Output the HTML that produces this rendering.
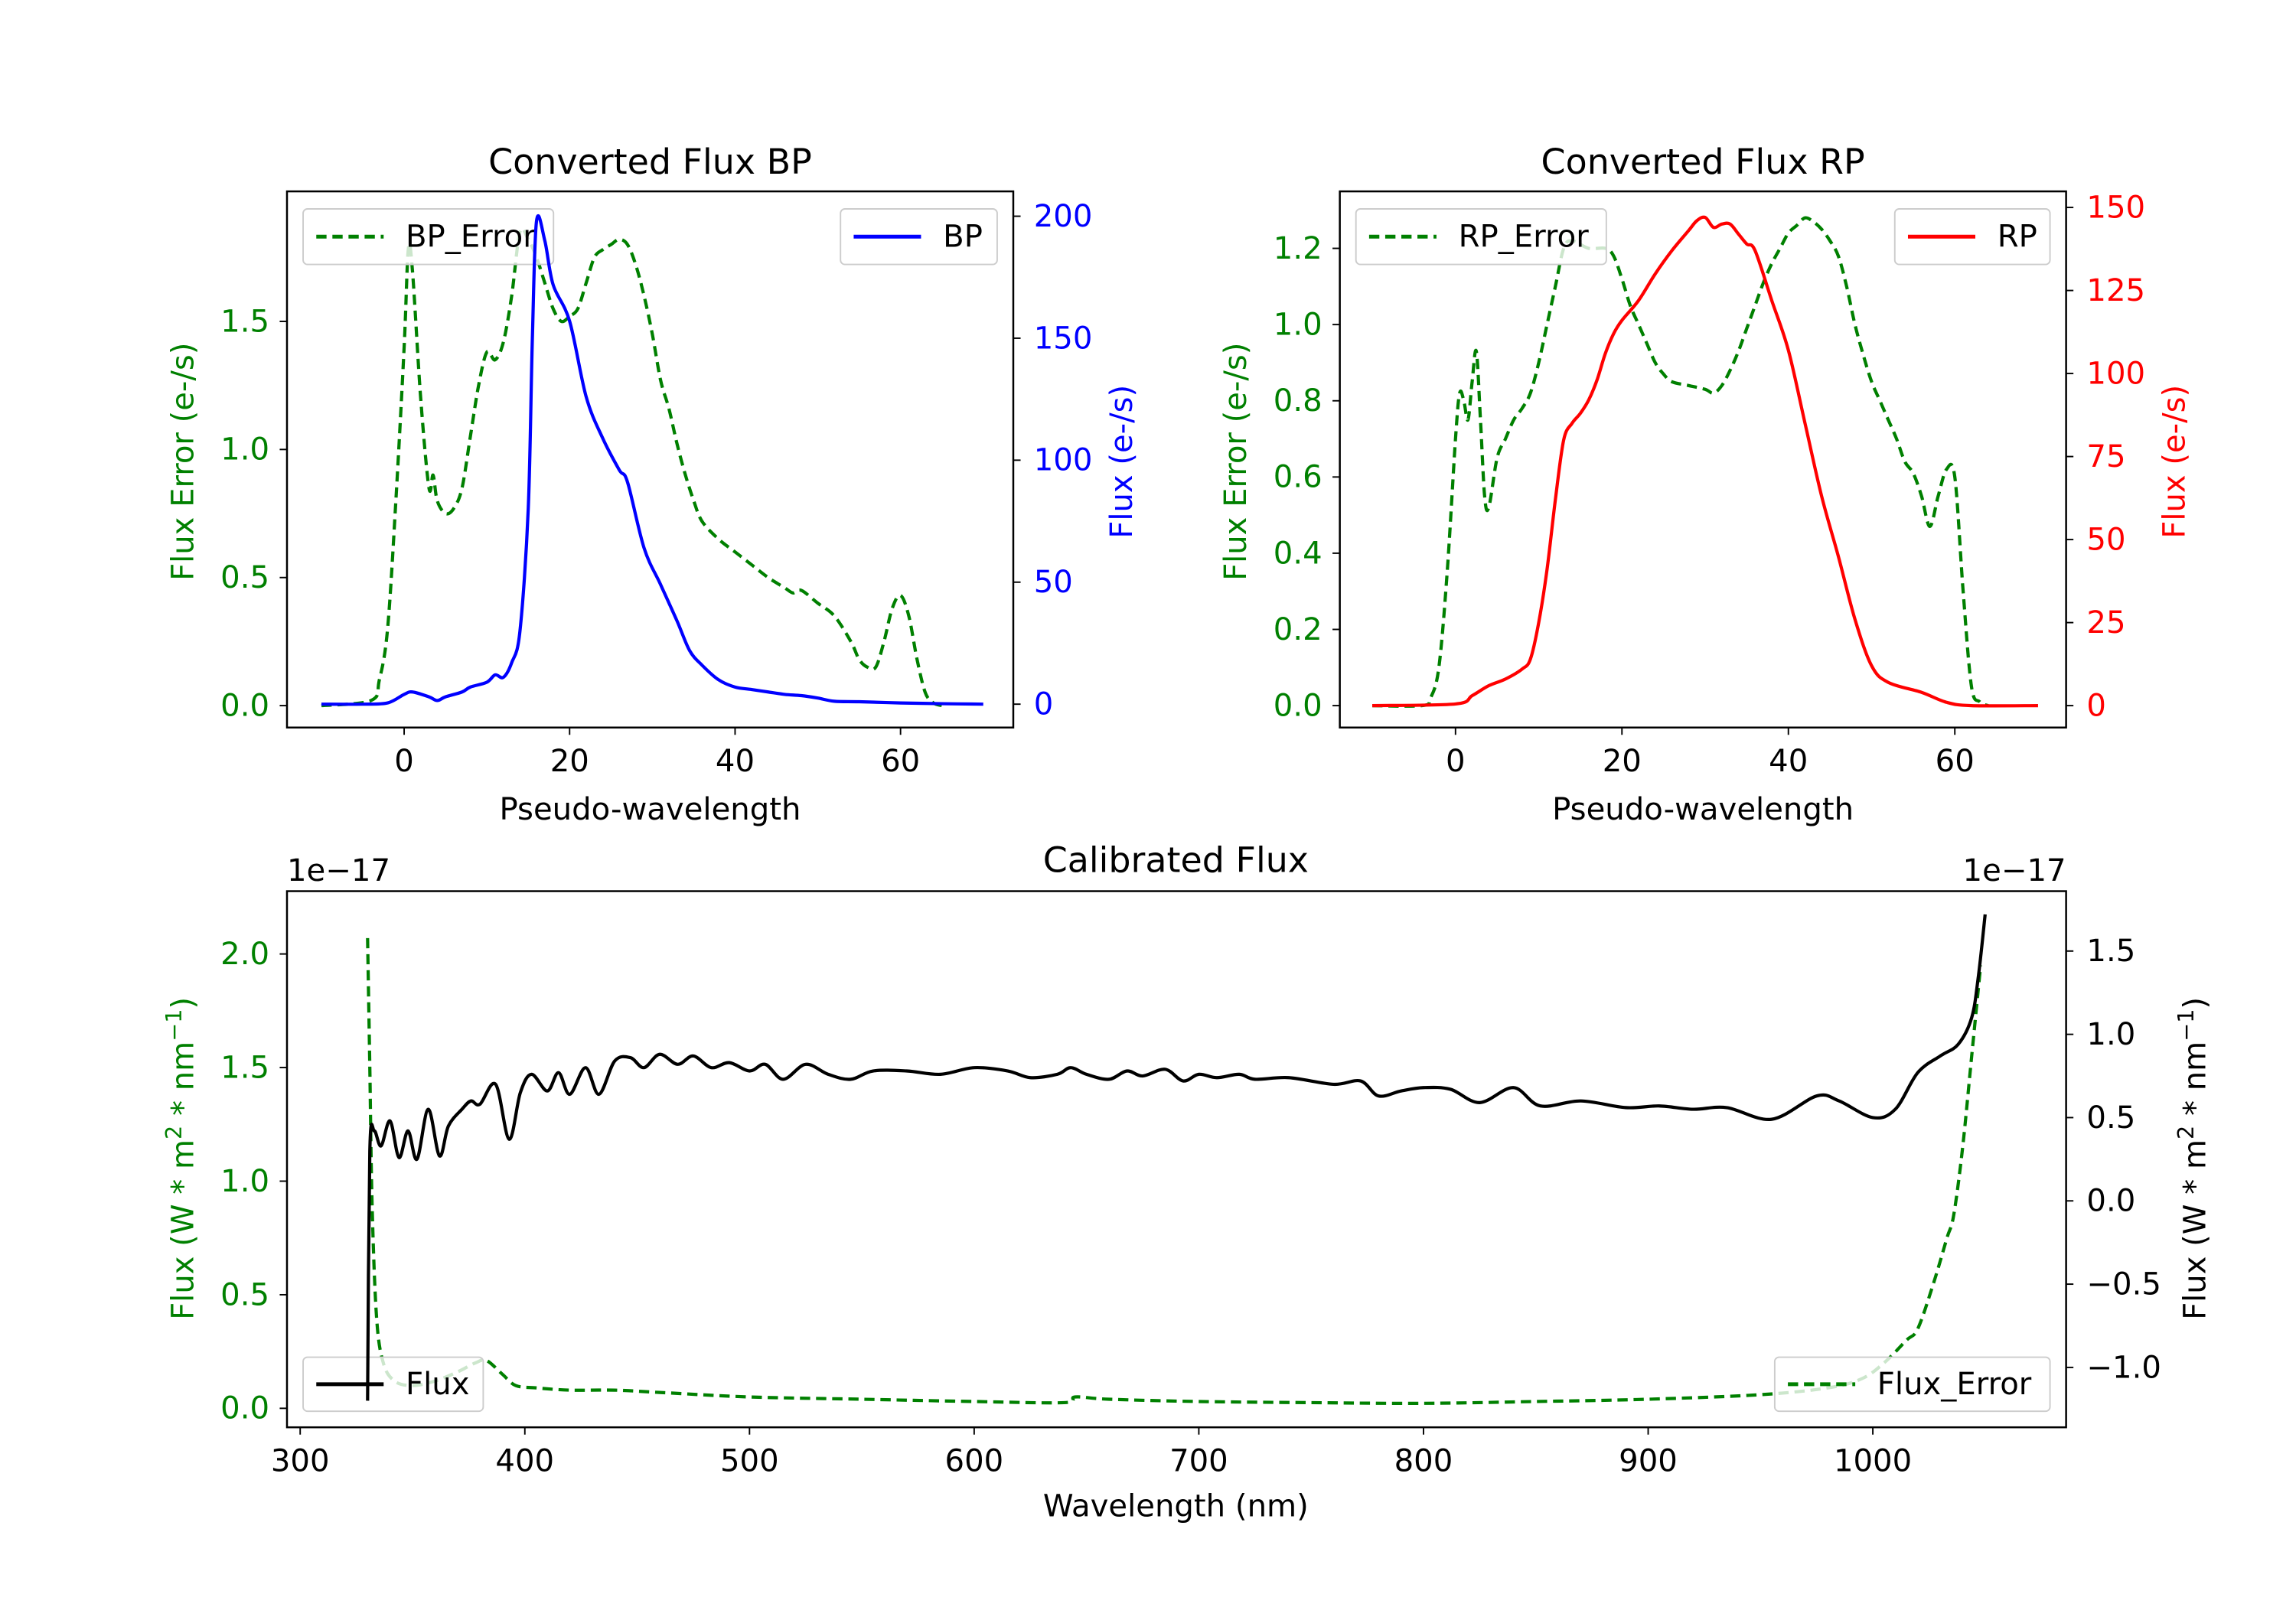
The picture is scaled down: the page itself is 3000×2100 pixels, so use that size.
<!DOCTYPE html>
<html><head><meta charset="utf-8"><style>
html,body{margin:0;padding:0;background:#fff}
svg{display:block}
text{font-family:"DejaVu Sans","Liberation Sans",sans-serif}
</style></head><body>
<svg id="fig" width="3000" height="2100" viewBox="0 0 1568 1100" preserveAspectRatio="none" xmlns="http://www.w3.org/2000/svg"></svg>
<script>
// ---- data ----
const bpX=[-10,-5,-2,0,1,3,4,5,7,8,10,11,12,13,14,15,15.5,16,17,18,20,22,24,26,27,29,31,33,34.5,36,38,40,42,44,46,48,50,52,55,60,65,70];
const bpFlux=[0,0,0.5,4,5,3,1.5,3,5,7,9,12,11,17,30,80,150,198,190,172,157,126,109,96,91,64,49,34,22,16,10,7,6,5,4,3.5,2.5,1.2,1,0.5,0.2,0];
const bpErrX=[-10,-4,-3,-2,-1,0,0.5,1,2,3,3.5,4,5,6,7,8,9,10,11,12,13,14,15,16,17,18,19,20,21,22,23,24,25,26,27,28,29,30,31,32,33,34,35,36,38,40,42,44,46,47,48,50,52,54,55,56,57,58,59,60,61,62,63,64,65];
const bpErr=[0,0.02,0.1,0.3,0.8,1.4,1.78,1.7,1.2,0.85,0.9,0.8,0.75,0.77,0.85,1.05,1.25,1.38,1.35,1.42,1.6,1.85,1.82,1.75,1.65,1.55,1.5,1.52,1.55,1.65,1.75,1.78,1.8,1.82,1.8,1.72,1.6,1.45,1.27,1.16,1.02,0.9,0.8,0.72,0.65,0.6,0.55,0.5,0.46,0.44,0.45,0.4,0.35,0.25,0.18,0.15,0.15,0.25,0.38,0.43,0.35,0.18,0.05,0.01,0];
const rpX=[-10,0,2,4,6,8,9,10,11,12,13,14,15,16,17,18,19,20,22,24,26,28,29,30,31,32,33,34,35,36,38,40,42,44,46,48,50,52,56,59,62,70];
const rpFlux=[0,0.5,3,6,8,11,14,25,41,62,80,85,88,92,98,106,112,116,122,130,137,143,146,147,144,145,145,142,139,137,122,107,85,63,45,26,12,7,4,1,0,0];
const rpErrX=[-10,-4,-3,-2,-1,0,0.5,1,1.5,2,2.5,3,3.5,4,5,6,7,8,9,10,11,12,13,14,16,18,19,20,21,22,23,24,25,26,28,30,31,32,33,34,35,36,37,38,39,40,41,42,43,44,45,46,47,48,49,50,51,52,53,54,55,56,57,58,59,60,61,62,63,64];
const rpErr=[0,0,0.02,0.1,0.35,0.7,0.82,0.8,0.75,0.85,0.93,0.75,0.55,0.52,0.65,0.7,0.75,0.78,0.82,0.9,1.0,1.1,1.2,1.22,1.2,1.2,1.18,1.12,1.05,1.0,0.95,0.9,0.87,0.85,0.84,0.83,0.82,0.84,0.88,0.93,0.99,1.05,1.11,1.16,1.2,1.24,1.26,1.28,1.27,1.25,1.22,1.18,1.1,1.0,0.92,0.85,0.8,0.75,0.7,0.64,0.61,0.55,0.47,0.55,0.62,0.6,0.3,0.05,0.01,0];
const calX=[330,331,333,336,340,344,348,352,357,362,366,372,376,380,387,393,398,403,410,415,420,427,433,440,447,453,460,468,475,483,491,500,507,515,525,535,545,555,570,585,600,615,625,637,643,650,660,668,675,685,693,700,708,718,725,740,760,772,780,790,800,812,825,840,852,870,890,905,920,935,955,975,985,1000,1010,1020,1030,1038,1044,1047,1050];
const calFlux=[-1.2,0.3,0.42,0.33,0.48,0.26,0.42,0.25,0.55,0.27,0.45,0.55,0.6,0.58,0.7,0.37,0.65,0.76,0.66,0.77,0.64,0.8,0.64,0.84,0.86,0.8,0.88,0.82,0.87,0.8,0.83,0.78,0.82,0.73,0.82,0.76,0.73,0.78,0.78,0.76,0.8,0.78,0.74,0.76,0.8,0.76,0.73,0.78,0.75,0.79,0.72,0.76,0.74,0.76,0.73,0.74,0.7,0.72,0.63,0.66,0.68,0.67,0.59,0.68,0.57,0.6,0.56,0.57,0.55,0.56,0.49,0.63,0.6,0.5,0.55,0.77,0.87,0.94,1.1,1.35,1.72];
const calErrX=[330,331,332,334,337,342,350,360,370,378,383,390,396,405,420,440,460,500,550,600,640,645,660,700,750,800,850,900,950,980,995,1005,1015,1020,1027,1033,1036,1040,1044,1048];
const calErr=[2.07,1.5,0.9,0.4,0.2,0.12,0.1,0.12,0.16,0.2,0.21,0.15,0.1,0.09,0.08,0.08,0.07,0.05,0.04,0.03,0.025,0.05,0.04,0.03,0.025,0.022,0.03,0.04,0.06,0.09,0.13,0.2,0.3,0.35,0.55,0.75,0.85,1.15,1.55,1.95];
const bpXTicks=[0,20,40,60], bpErrTicks=[0,0.5,1,1.5], bpFluxTicks=[0,50,100,150,200];
const rpXTicks=[0,20,40,60], rpErrTicks=[0,0.2,0.4,0.6,0.8,1.0,1.2], rpFluxTicks=[0,25,50,75,100,125,150];
const calXTicks=[300,400,500,600,700,800,900,1000], calErrTicks=[0,0.5,1.0,1.5,2.0], calFluxTicks=[-1.0,-0.5,0,0.5,1.0,1.5];

const NS="http://www.w3.org/2000/svg";
const svg=document.getElementById('fig');
const TF=21, LF=21, TTF=24;
function el(tag,attrs,parent){const e=document.createElementNS(NS,tag);for(const k in attrs)e.setAttribute(k,attrs[k]);(parent||svg).appendChild(e);return e;}
function txt(s,attrs,parent){const e=el('text',attrs,parent);e.textContent=s;return e;}
function lin(d0,d1,p0,p1){return v=>p0+(v-d0)/(d1-d0)*(p1-p0);}
function fmt(v,dec){return (v<0?'\u2212':'')+Math.abs(v).toFixed(dec);}
function pathD(xs,ys,sx,sy){
  const P=xs.map((x,i)=>[sx(x),sy(ys[i])]);
  let d='M'+P[0][0].toFixed(2)+','+P[0][1].toFixed(2);
  for(let i=0;i<P.length-1;i++){
    const p0=P[Math.max(0,i-1)],p1=P[i],p2=P[i+1],p3=P[Math.min(P.length-1,i+2)];
    const c1=[p1[0]+(p2[0]-p0[0])/6,p1[1]+(p2[1]-p0[1])/6];
    const c2=[p2[0]-(p3[0]-p1[0])/6,p2[1]-(p3[1]-p1[1])/6];
    d+=' C'+c1.map(v=>v.toFixed(2)).join(',')+' '+c2.map(v=>v.toFixed(2)).join(',')+' '+p2[0].toFixed(2)+','+p2[1].toFixed(2);
  }
  return d;
}
let clipN=0;
function clip(L,T,R,B){const id='c'+(clipN++);const cp=el('clipPath',{id});el('rect',{x:L,y:T,width:R-L,height:B-T},cp);return 'url(#'+id+')';}
function legend(L,T,W,H,color,dash,label,name){
  const g=el('g',{});
  
  
  el('rect',{x:L,y:T,width:W,height:H,rx:3,fill:'rgba(255,255,255,0.8)',stroke:'#cccccc','stroke-width':1},g);
  el('line',{x1:L+9,x2:L+55,y1:T+H/2,y2:T+H/2,stroke:color,'stroke-width':2.6,'stroke-dasharray':dash||'none'},g);
  txt(label,{x:L+70,y:T+H/2+7,'font-size':LF,fill:'#000'},g);
}
function xAxis(ticks,sx,B,dec){
  for(const t of ticks){const x=sx(t);
    const tk=el('line',{x1:x,x2:x,y1:B,y2:B+5,stroke:'#000','stroke-width':1});
    
    txt(fmt(t,dec),{x:x,y:B+30,'font-size':TF,'text-anchor':'middle',fill:'#000'});}
}
function yAxis(ticks,sy,X,side,color,dec){
  for(const t of ticks){const y=sy(t);
    const tk=el('line',{x1:X,x2:X+(side<0?-5:5),y1:y,y2:y,stroke:'#000','stroke-width':1});
    
    txt(fmt(t,dec),{x:X+(side<0?-12:14),y:y+7,'font-size':TF,'text-anchor':side<0?'end':'start',fill:color});}
}
function series(xs,ys,sx,sy,color,dash,cp,name){
  const p=el('path',{d:pathD(xs,ys,sx,sy),fill:'none',stroke:color,'stroke-width':2.2,'stroke-dasharray':dash||'none','clip-path':cp,'stroke-linejoin':'round'});
  
}
function frame(L,T,R,B,name){const r=el('rect',{x:L,y:T,width:R-L,height:B-T,fill:'none',stroke:'#000','stroke-width':1.3});}
function rotLabel(s,x,y,color,name){const t=txt('',{x:x,y:y,'font-size':LF,'text-anchor':'middle',fill:color,transform:'rotate(-90 '+x+' '+y+')'});t.innerHTML=s;}
function title(s,x,y,name,size){const t=txt(s,{x:x,y:y,'font-size':size||TTF,'text-anchor':'middle',fill:'#000'});}
const DASH='7,4';

// ---- BP panel ----
(function(){
  const L=196,T=131,R=692,B=498;
  const sx=lin(0,60,276,615), sy=lin(0,1.5,483,220), sy2=lin(0,200,482,148);
  const cp=clip(L,T,R,B);
  series(bpErrX,bpErr,sx,sy,'#008000',DASH,cp,'bp-error-line');
  legend(207,143,171,38,'#008000',DASH,'BP_Error','bp-error-legend');
  series(bpX,bpFlux,sx,sy2,'#0000ff',null,cp,'bp-flux-line');
  legend(574,143,107,38,'#0000ff',null,'BP','bp-legend');
  frame(L,T,R,B,'bp-axes');
  xAxis(bpXTicks,sx,B,0);
  yAxis(bpErrTicks,sy,L,-1,'#008000',1);
  yAxis(bpFluxTicks,sy2,R,1,'#0000ff',0);
  title('Converted Flux BP',444,119,'bp-title');
  title('Pseudo-wavelength',444,561,'bp-x-label',LF);
  rotLabel('Flux Error (e-/s)',132,316,'#008000','bp-y-left-label');
  rotLabel('Flux (e-/s)',773,316,'#0000ff','bp-y-right-label');
})();
// ---- RP panel ----
(function(){
  const L=915,T=131,R=1411,B=498;
  const sx=lin(0,60,994,1335), sy=lin(0,1.2,483,170), sy2=lin(0,150,483,142);
  const cp=clip(L,T,R,B);
  series(rpErrX,rpErr,sx,sy,'#008000',DASH,cp,'rp-error-line');
  legend(926,143,171,38,'#008000',DASH,'RP_Error','rp-error-legend');
  series(rpX,rpFlux,sx,sy2,'#ff0000',null,cp,'rp-flux-line');
  legend(1294,143,106,38,'#ff0000',null,'RP','rp-legend');
  frame(L,T,R,B,'rp-axes');
  xAxis(rpXTicks,sx,B,0);
  yAxis(rpErrTicks,sy,L,-1,'#008000',1);
  yAxis(rpFluxTicks,sy2,R,1,'#ff0000',0);
  title('Converted Flux RP',1163,119,'rp-title');
  title('Pseudo-wavelength',1163,561,'rp-x-label',LF);
  rotLabel('Flux Error (e-/s)',851,316,'#008000','rp-y-left-label');
  rotLabel('Flux (e-/s)',1492,316,'#ff0000','rp-y-right-label');
})();
// ---- Calibrated panel ----
(function(){
  const L=196,T=610,R=1411,B=977;
  const sx=lin(300,1000,205,1279), sy=lin(0,2.0,964,653), sy2=lin(0,1.5,822,651);
  const cp=clip(L,T,R,B);
  series(calErrX,calErr,sx,sy,'#008000',DASH,cp,'flux-error-line');
  legend(207,929,123,37,'#000',null,'Flux','flux-legend');
  series(calX,calFlux,sx,sy2,'#000',null,cp,'flux-line');
  legend(1212,929,188,37,'#008000',DASH,'Flux_Error','flux-error-legend');
  frame(L,T,R,B,'calibrated-axes');
  xAxis(calXTicks,sx,B,0);
  yAxis(calErrTicks,sy,L,-1,'#008000',1);
  yAxis(calFluxTicks,sy2,R,1,'#000',1);
  title('Calibrated Flux',803,597,'calibrated-title');
  title('Wavelength (nm)',803,1038,'calibrated-x-label',LF);
  const o1=txt('1e\u221217',{x:196,y:603,'font-size':TF,fill:'#000'});
  const o2=txt('1e\u221217',{x:1411,y:603,'font-size':TF,'text-anchor':'end',fill:'#000'});
  rotLabel('Flux (W * m<tspan dy="-8" font-size="15">2</tspan><tspan dy="8"> * nm</tspan><tspan dy="-8" font-size="15">\u22121</tspan><tspan dy="8">)</tspan>',132,793,'#008000','calibrated-y-left-label');
  rotLabel('Flux (W * m<tspan dy="-8" font-size="15">2</tspan><tspan dy="8"> * nm</tspan><tspan dy="-8" font-size="15">\u22121</tspan><tspan dy="8">)</tspan>',1506,793,'#000','calibrated-y-right-label');
})();
</script>
</body></html>
